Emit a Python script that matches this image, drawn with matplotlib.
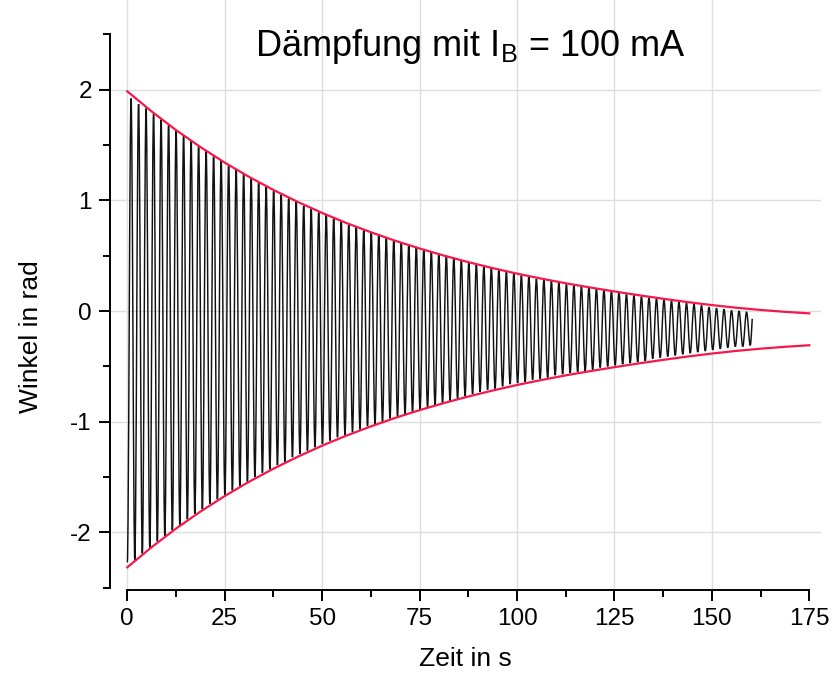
import numpy as np
import matplotlib.pyplot as plt
from matplotlib.path import Path
from matplotlib.patches import PathPatch
from matplotlib.ticker import MultipleLocator

plt.rcParams['font.family'] = ['Liberation Sans', 'DejaVu Sans']
plt.rcParams['axes.unicode_minus'] = False

# Umkehrpunkte der Schwingung (Winkel in rad), abwechselnd Minimum / Maximum
period = 1.926  # s
minima = [
    -2.27, -2.25, -2.19, -2.14, -2.08, -2.03, -1.98, -1.93, -1.88, -1.83,
    -1.79, -1.74, -1.70, -1.66, -1.62, -1.58, -1.54, -1.50, -1.46, -1.43,
    -1.39, -1.36, -1.32, -1.29, -1.26, -1.23, -1.20, -1.17, -1.14, -1.12,
    -1.09, -1.07, -1.04, -1.02, -1.00, -0.97, -0.95, -0.93, -0.91, -0.89,
    -0.87, -0.85, -0.83, -0.81, -0.79, -0.77, -0.75, -0.73, -0.71, -0.70,
    -0.68, -0.66, -0.65, -0.64, -0.62, -0.61, -0.60, -0.58, -0.57, -0.56,
    -0.55, -0.54, -0.53, -0.51, -0.50, -0.49, -0.48, -0.47, -0.46, -0.45,
    -0.43, -0.42, -0.41, -0.40, -0.39, -0.38, -0.37, -0.36, -0.35, -0.34,
    -0.33, -0.32, -0.32, -0.31,
]
maxima = [
    1.92, 1.87, 1.83, 1.78, 1.73, 1.685, 1.63, 1.585, 1.54, 1.49,
    1.45, 1.40, 1.36, 1.32, 1.28, 1.24, 1.20, 1.16, 1.12, 1.09,
    1.05, 1.02, 0.99, 0.95, 0.92, 0.89, 0.87, 0.84, 0.81, 0.78,
    0.76, 0.73, 0.71, 0.69, 0.66, 0.64, 0.62, 0.60, 0.58, 0.56,
    0.54, 0.52, 0.50, 0.48, 0.46, 0.44, 0.42, 0.40, 0.39, 0.37,
    0.35, 0.34, 0.32, 0.31, 0.29, 0.28, 0.27, 0.26, 0.24, 0.23,
    0.22, 0.21, 0.20, 0.19, 0.18, 0.17, 0.15, 0.14, 0.13, 0.12,
    0.11, 0.10, 0.09, 0.08, 0.07, 0.06, 0.05, 0.035, 0.025, 0.015,
    0.005, 0.00, -0.01,
]
# letzter Messpunkt (Aufzeichnung bricht ab)
tail_t, tail_v = 160.35, -0.07

# exponentielle Einhüllende (Fit)
fit_t = [0, 6.25, 12.5, 18.75, 25, 31.25, 37.5, 43.75, 50, 56.25,
         62.5, 68.75, 75, 81.25, 87.5, 93.75, 100, 106.25, 112.5, 118.75,
         125, 131.25, 137.5, 143.75, 150, 156.25, 162.5, 168.75, 175]
fit_upper = [1.985, 1.803, 1.635, 1.482, 1.341, 1.212, 1.094, 0.986, 0.886, 0.795,
             0.712, 0.635, 0.565, 0.501, 0.442, 0.388, 0.338, 0.293, 0.251, 0.213,
             0.177, 0.143, 0.111, 0.081, 0.054, 0.030, 0.010, -0.007, -0.021]
fit_lower = [-2.315, -2.133, -1.965, -1.812, -1.671, -1.542, -1.424, -1.316, -1.216, -1.125,
             -1.042, -0.965, -0.895, -0.831, -0.772, -0.718, -0.668, -0.623, -0.581, -0.543,
             -0.507, -0.473, -0.441, -0.411, -0.384, -0.360, -0.340, -0.323, -0.309]

# Umkehrpunkte zeitlich sortieren
ext_v = []
for i in range(len(minima)):
    ext_v.append(minima[i])
    if i < len(maxima):
        ext_v.append(maxima[i])
ext_t = np.arange(len(ext_v)) * period / 2

# glatte Halbwellen zwischen den Umkehrpunkten (Bezier, waagrechte Tangenten)
k = 1 - 2 / np.pi
verts = [(ext_t[0], ext_v[0])]
codes = [Path.MOVETO]
for i in range(1, len(ext_v)):
    h = ext_t[i] - ext_t[i - 1]
    verts += [(ext_t[i - 1] + k * h, ext_v[i - 1]),
              (ext_t[i] - k * h, ext_v[i]),
              (ext_t[i], ext_v[i])]
    codes += [Path.CURVE4] * 3
h = tail_t - ext_t[-1]
verts += [(ext_t[-1] + k * h, ext_v[-1]), (tail_t, tail_v), (tail_t, tail_v)]
codes += [Path.CURVE4] * 3

fig = plt.figure(figsize=(8.32, 6.73), dpi=100)
ax = fig.add_axes([110 / 832, 83 / 673, 711 / 832, 590 / 673])

ax.add_patch(PathPatch(Path(verts, codes), fill=False, edgecolor='#111111', lw=1.05, zorder=3))
ax.plot(fit_t, fit_upper, color='#f5184a', lw=1.6, zorder=4)
ax.plot(fit_t, fit_lower, color='#f5184a', lw=1.6, zorder=4)

ax.set_xlim(-4.44, 178.0)
ax.set_ylim(-2.52, 2.81)

for s in ['top', 'right']:
    ax.spines[s].set_visible(False)
ax.spines['left'].set_bounds(-2.5, 2.5)
ax.spines['bottom'].set_bounds(0, 175)
for s in ['left', 'bottom']:
    ax.spines[s].set_linewidth(1.4)

ax.xaxis.set_major_locator(MultipleLocator(25))
ax.xaxis.set_minor_locator(MultipleLocator(12.5))
ax.yaxis.set_major_locator(MultipleLocator(1))
ax.yaxis.set_minor_locator(MultipleLocator(0.5))
ax.set_xticks([0, 25, 50, 75, 100, 125, 150, 175])
ax.set_yticks([-2, -1, 0, 1, 2])
ax.tick_params(which='major', length=8, width=1.4, labelsize=17.5, pad=5)
ax.tick_params(which='minor', length=5, width=1.4)

ax.grid(True, which='major', color='#dedede', lw=1.0, zorder=0)
ax.xaxis.get_gridlines()[-1].set_visible(False)
ax.set_axisbelow(True)

ax.set_xlabel('Zeit in s', fontsize=19, labelpad=12)
ax.set_ylabel('Winkel in rad', fontsize=19)
ax.yaxis.set_label_coords(-0.094, 0.43)
fig.text(470 / 832, 1 - 56 / 673, r'Dämpfung mit I$_\mathregular{B}$ = 100 mA',
         fontsize=26, ha='center', va='baseline')

fig.savefig('out.png', dpi=100, facecolor='white')
